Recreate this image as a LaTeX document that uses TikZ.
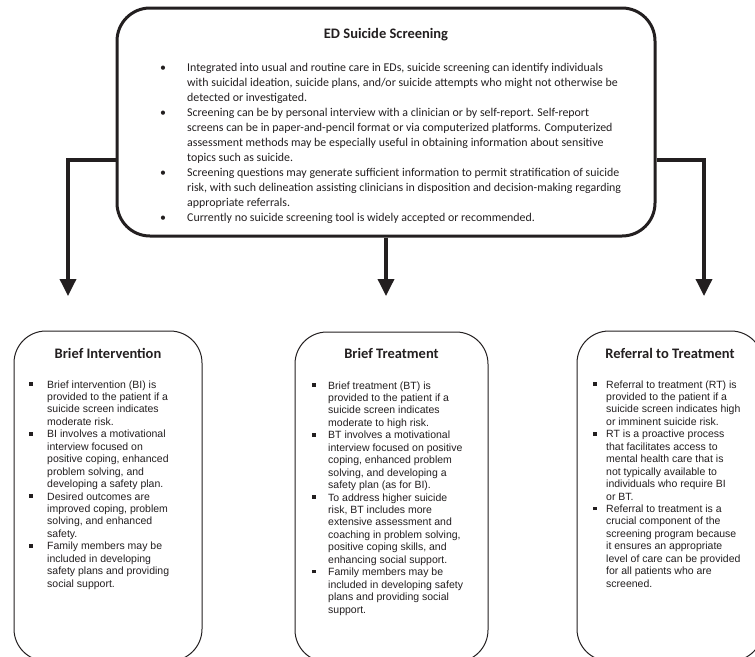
\documentclass[tikz,border=0pt]{standalone}
\usepackage{fontspec}
\setmainfont{Carlito}
\newfontfamily\arialf{Liberation Sans}
\usetikzlibrary{arrows.meta}
\definecolor{ink}{HTML}{231F20}
\newcommand{\sqbul}{\rule[2.3pt]{3.4pt}{3.4pt}}
\newcommand{\lowfont}{\arialf\fontsize{10.5pt}{12.45pt}\selectfont}
\newcommand{\topfont}{\fontsize{11.9pt}{15pt}\selectfont}
\newenvironment{blist}[3]{\begin{list}{#3}{%
  \setlength\leftmargin{#1}\setlength\labelwidth{#1}\setlength\labelsep{0pt}%
  \setlength\itemsep{0pt}\setlength\parsep{0pt}\setlength\topsep{0pt}%
  \setlength\partopsep{0pt}\setlength\itemindent{0pt}\setlength\listparindent{0pt}%
  \setlength\rightmargin{0pt}\renewcommand\makelabel[1]{\hspace{#2}##1\hfil}}}{\end{list}}
\begin{document}
\begin{tikzpicture}[x=1pt,y=1pt,
  topbox/.style={draw=ink, line width=3pt, rounded corners=33pt, minimum width=538pt, minimum height=228pt, inner sep=0pt},
  lowbox/.style={draw=ink, line width=1pt, rounded corners=32pt, minimum height=330pt, inner sep=0pt},
  boxtitle/.style={anchor=base, inner sep=0pt, font=\bfseries\fontsize{14.5}{17}\selectfont, text=ink},
  txt/.style={anchor=base west, inner sep=0pt, text=ink},
  conn/.style={draw=ink, line width=3.5pt, -{Triangle[width=16pt,length=17pt]}}]
\clip (0,0) rectangle (755,-656);
\fill[white] (0,0) rectangle (755,-656);
% top box
\node[topbox] (top) at (386,-122) {};
\node[boxtitle] (toptitle) at (386,-38) {ED Suicide Screening};
\node[txt] (toptext) at (157,-71) {\begin{minipage}[t]{500pt}\topfont\raggedright
\begin{blist}{30pt}{3pt}{\textbullet}
\item Integrated into usual and routine care in EDs, suicide screening can identify individuals\newline with suicidal ideation, suicide plans, and/or suicide attempts who might not otherwise be\newline detected or investigated.
\item Screening can be by personal interview with a clinician or by self-report. Self-report\newline screens can be in paper-and-pencil format or via computerized platforms. Computerized\newline assessment methods may be especially useful in obtaining information about sensitive\newline topics such as suicide.
\item Screening questions may generate sufficient information to permit stratification of suicide\newline risk, with such delineation assisting clinicians in disposition and decision-making regarding\newline appropriate referrals.
\item Currently no suicide screening tool is widely accepted or recommended.
\end{blist}\end{minipage}};
% lower boxes
\node[lowbox, minimum width=188pt] (bi) at (108,-496) {};
\node[lowbox, minimum width=193pt] (bt) at (391.5,-497) {};
\node[lowbox, minimum width=186pt] (rt) at (670,-496) {};
\node[boxtitle] (bititle) at (108,-358) {Brief Intervention};
\node[boxtitle] (bttitle) at (391.5,-358) {Brief Treatment};
\node[boxtitle] (rttitle) at (670,-358) {Referral to Treatment};
\node[txt] (bitext) at (29,-388) {\begin{minipage}[t]{170pt}\lowfont\raggedright
\begin{blist}{18pt}{0pt}{\sqbul}
\item Brief intervention (BI) is\newline provided to the patient if a\newline suicide screen indicates\newline moderate risk.
\item BI involves a motivational\newline interview focused on\newline positive coping, enhanced\newline problem solving, and\newline developing a safety plan.
\item Desired outcomes are\newline improved coping, problem\newline solving, and enhanced\newline safety.
\item Family members may be\newline included in developing\newline safety plans and providing\newline social support.
\end{blist}\end{minipage}};
\node[txt] (bttext) at (312,-389) {\begin{minipage}[t]{175pt}\lowfont\raggedright
\begin{blist}{16pt}{0pt}{\sqbul}
\item Brief treatment (BT) is\newline provided to the patient if a\newline suicide screen indicates\newline moderate to high risk.
\item BT involves a motivational\newline interview focused on positive\newline coping, enhanced problem\newline solving, and developing a\newline safety plan (as for BI).
\item To address higher suicide\newline risk, BT includes more\newline extensive assessment and\newline coaching in problem solving,\newline positive coping skills, and\newline enhancing social support.
\item Family members may be\newline included in developing safety\newline plans and providing social\newline support.
\end{blist}\end{minipage}};
\node[txt] (rttext) at (593,-388) {\begin{minipage}[t]{175pt}\lowfont\raggedright
\begin{blist}{13pt}{0pt}{\sqbul}
\item Referral to treatment (RT) is\newline provided to the patient if a\newline suicide screen indicates high\newline or imminent suicide risk.
\item RT is a proactive process\newline that facilitates access to\newline mental health care that is\newline not typically available to\newline individuals who require BI\newline or BT.
\item Referral to treatment is a\newline crucial component of the\newline screening program because\newline it ensures an appropriate\newline level of care can be provided\newline for all patients who are\newline screened.
\end{blist}\end{minipage}};
% connectors
\coordinate (hl) at (0,-160);
\coordinate (e1) at (68,-296);
\coordinate (e2) at (386,-296);
\coordinate (e3) at (704,-296);
\draw[conn] (top.west |- hl) -| (e1);
\draw[conn] (top.south -| e2) -- (e2);
\draw[conn] (top.east |- hl) -| (e3);
\end{tikzpicture}
\end{document}
